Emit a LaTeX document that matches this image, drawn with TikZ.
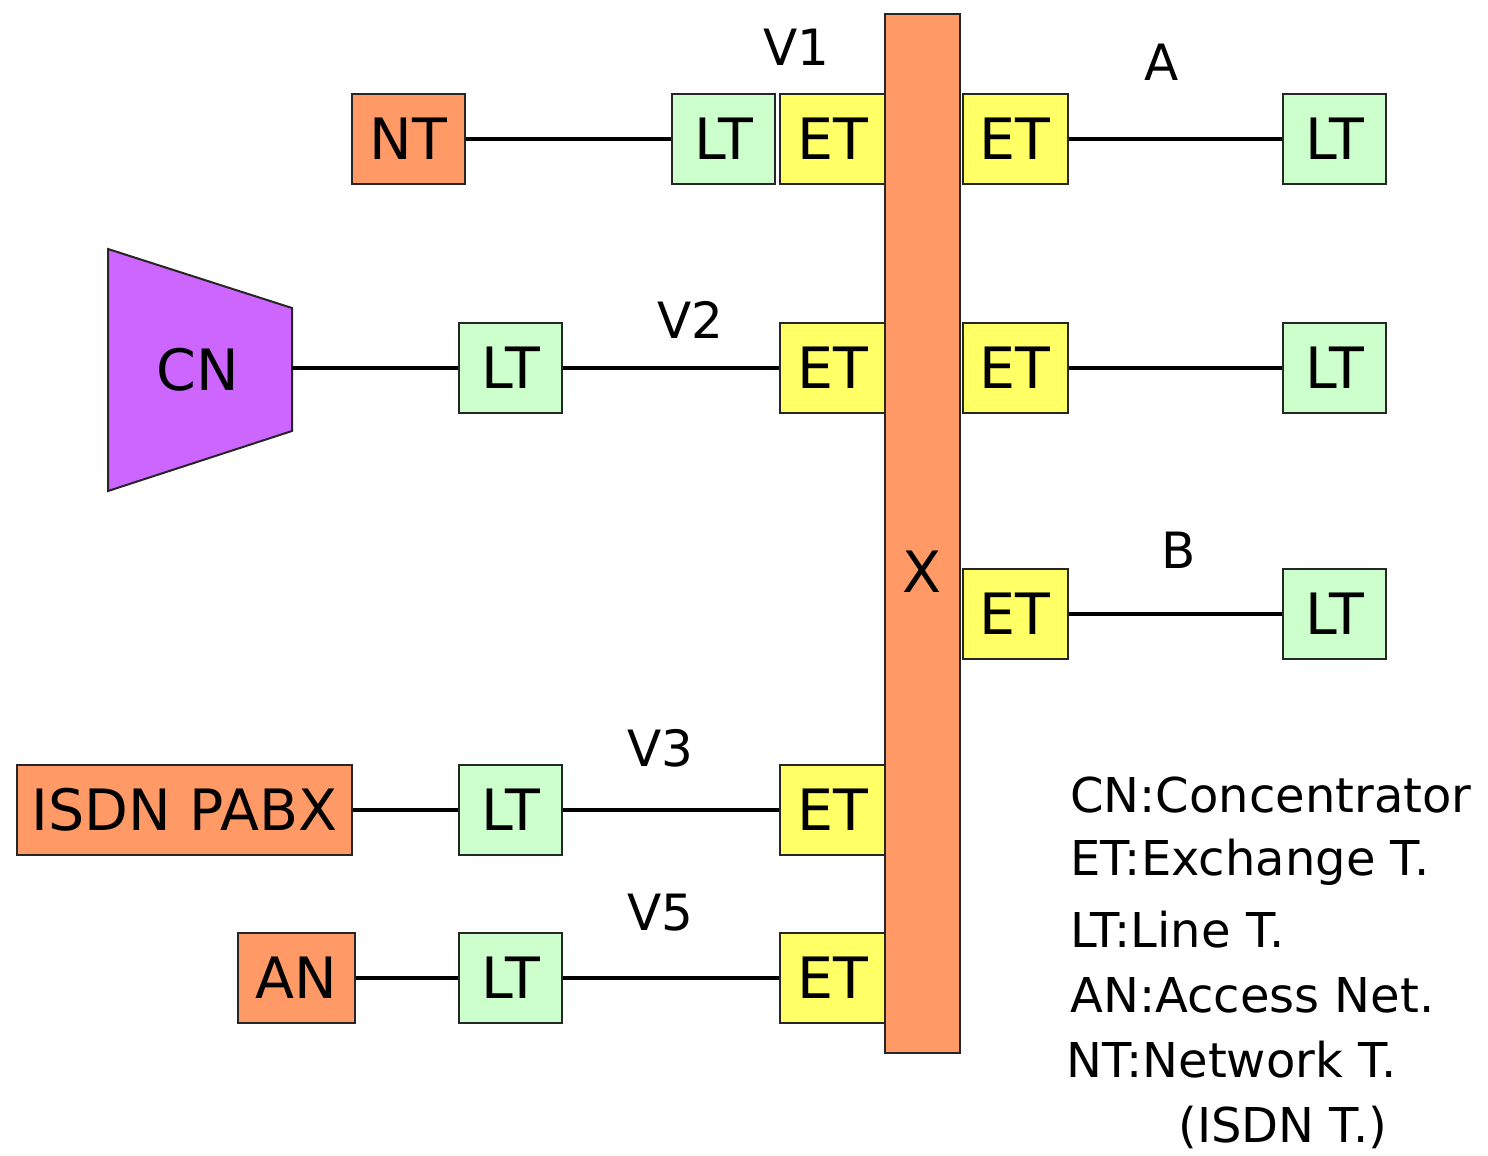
\documentclass[tikz,border=0pt]{standalone}
\usepackage{fontspec}
\setmainfont{DejaVu Sans}
\usepackage{xcolor}
\usetikzlibrary{positioning}

\definecolor{orgfill}{HTML}{FF9966}
\definecolor{ltfill}{HTML}{CCFFCC}
\definecolor{etfill}{HTML}{FFFF66}
\definecolor{cnfill}{HTML}{CC66FF}

\begin{document}
\begin{tikzpicture}[
   x=0.5pt, y=-0.5pt,
   blk/.style={rectangle, draw=black!85, line width=1pt, inner sep=0pt,
               minimum height=45pt, font=\fontsize{28.5}{34}\selectfont},
   ltbox/.style={blk, fill=ltfill, minimum width=51.5pt},
   etbox/.style={blk, fill=etfill, minimum width=52.5pt},
   orgbox/.style={blk, fill=orgfill},
   lbl/.style={font=\fontsize{25}{30}\selectfont, inner sep=0pt},
   leg/.style={font=\fontsize{24}{29}\selectfont, anchor=west, inner sep=0pt},
   wire/.style={line width=2pt}
]
\useasboundingbox (0,0) rectangle (1488,1156);

% switching block
\node[orgbox, minimum width=37.5pt, minimum height=519.5pt] (xbar) at (922.5,533.5) {};
\node[lbl, font=\fontsize{28.5}{34}\selectfont] (xlbl) at (922.5,572) {X};

% V1 row
\node[orgbox, minimum width=56.5pt] (nt) at (408.5,139) {NT};
\node[ltbox] (lt1) at (723.5,139) {LT};
\node[etbox] (et1) at (832.5,139) {ET};
\node[lbl] (v1) at (796,47) {V1};

% V2 row
\draw[draw=black!85, line width=1pt, fill=cnfill]
   (108,249) -- (292,308) -- (292,431) -- (108,491) -- cycle;
\node[lbl, font=\fontsize{28.5}{34}\selectfont] (cn) at (198,370) {CN};
\coordinate (cnout) at (292,368);
\node[ltbox] (lt2) at (510.5,368) {LT};
\node[etbox] (et2) at (832.5,368) {ET};
\node[lbl] (v2) at (690,320) {V2};

% V3 row
\node[orgbox, minimum width=167.5pt] (pabx) at (184.5,810) {ISDN PABX};
\node[ltbox] (lt3) at (510.5,810) {LT};
\node[etbox] (et3) at (832.5,810) {ET};
\node[lbl] (v3) at (660,748) {V3};

% V5 row
\node[orgbox, minimum width=58.5pt] (an) at (296.5,978) {AN};
\node[ltbox] (lt4) at (510.5,978) {LT};
\node[etbox] (et4) at (832.5,978) {ET};
\node[lbl] (v5) at (660,913) {V5};

% subscriber side
\node[etbox] (eta) at (1015,139) {ET};
\node[ltbox] (lta) at (1334.5,139) {LT};
\node[lbl] (a) at (1162,62) {A};
\node[etbox] (etm) at (1015,368) {ET};
\node[ltbox] (ltm) at (1334.5,368) {LT};
\node[etbox] (etb) at (1015,614) {ET};
\node[ltbox] (ltb) at (1334.5,614) {LT};
\node[lbl] (b) at (1179,550) {B};

\draw[wire] (nt) -- (lt1);
\draw[wire] (cnout) -- (lt2);
\draw[wire] (lt2) -- (et2);
\draw[wire] (pabx) -- (lt3);
\draw[wire] (lt3) -- (et3);
\draw[wire] (an) -- (lt4);
\draw[wire] (lt4) -- (et4);
\draw[wire] (eta) -- (lta);
\draw[wire] (etm) -- (ltm);
\draw[wire] (etb) -- (ltb);

% legend
\node[leg] (l1) at (1070,795) {CN:Concentrator};
\node[leg] (l2) at (1070,862) {ET:Exchange T.};
\node[leg] (l3) at (1070,930) {LT:Line T.};
\node[leg] (l4) at (1070,995) {AN:Access Net.};
\node[leg] (l5) at (1066,1060) {NT:Network T.};
\node[leg] (l6) at (1178,1127) {(ISDN T.)};
\end{tikzpicture}
\end{document}
